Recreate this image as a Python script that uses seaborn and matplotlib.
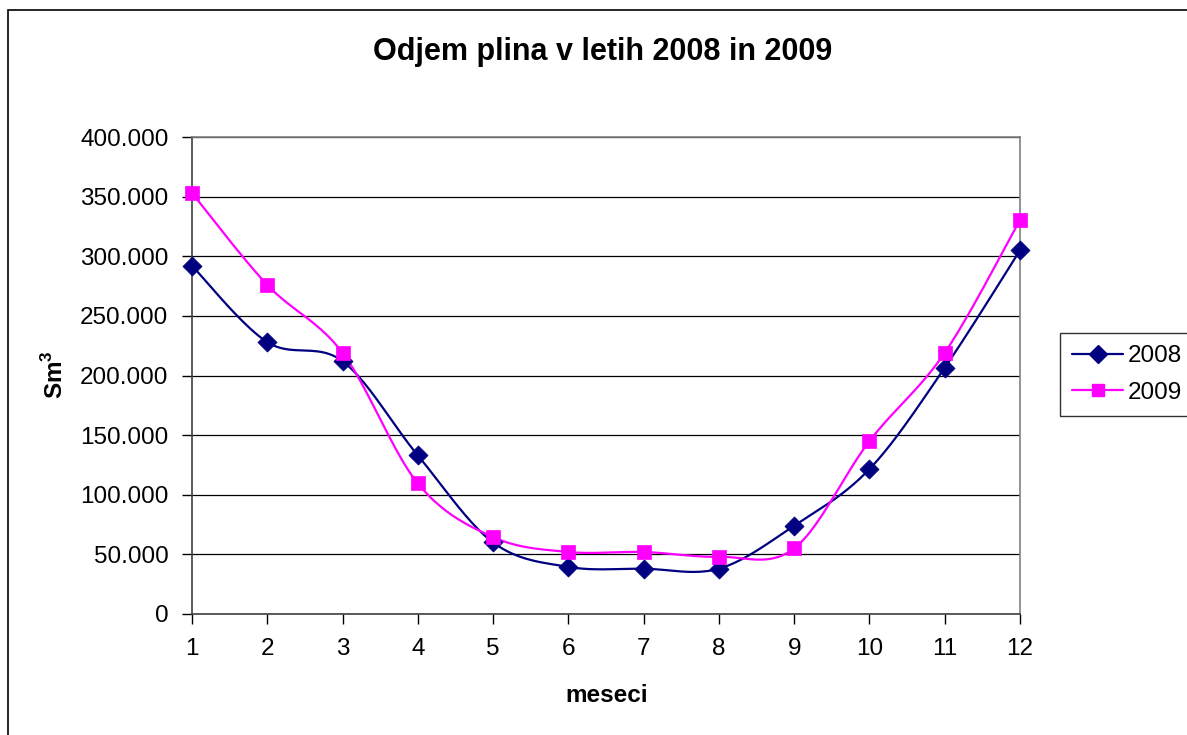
import numpy as np
import pandas as pd
import matplotlib
matplotlib.use("Agg")
import matplotlib.pyplot as plt
import seaborn as sns
from matplotlib.lines import Line2D
from matplotlib.patches import Rectangle
from matplotlib.ticker import FuncFormatter, MultipleLocator

months = [1, 2, 3, 4, 5, 6, 7, 8, 9, 10, 11, 12]
values_2008 = [292000, 228000, 212000, 133000, 60000, 39500, 38000, 38000, 74000, 121500, 206500, 305000]
values_2009 = [353000, 276000, 219000, 109500, 64500, 52000, 52000, 48000, 55000, 145000, 219000, 330500]
series_names = ["2008", "2009"]
series_colors = {"2008": "#000080", "2009": "#FF00FF"}
series_markers = {"2008": "D", "2009": "s"}

sns.set_theme(style="white")
plt.rcParams["font.family"] = ["Liberation Sans", "DejaVu Sans"]
plt.rcParams["mathtext.fontset"] = "custom"
plt.rcParams["mathtext.rm"] = "Liberation Sans"
plt.rcParams["mathtext.bf"] = "Liberation Sans:bold"
for key in ["text.color", "axes.labelcolor", "xtick.color", "ytick.color", "legend.labelcolor"]:
    plt.rcParams[key] = "#000000"

# Excel-like smoothing (Bezier with Catmull-Rom control points) in pixel-like space
XS, YS = 75.27, 1.1925 / 1000.0

def smooth(xs, ys, n=24):
    pts = np.column_stack([np.array(xs, float) * XS, np.array(ys, float) * YS])
    P = np.vstack([pts[0], pts, pts[-1]])
    out = []
    t = np.linspace(0, 1, n, endpoint=False)[:, None]
    for i in range(1, len(P) - 2):
        p0, p1, p2, p3 = P[i - 1], P[i], P[i + 1], P[i + 2]
        c1 = p1 + (p2 - p0) / 6.0
        c2 = p2 - (p3 - p1) / 6.0
        b = (1 - t) ** 3 * p1 + 3 * (1 - t) ** 2 * t * c1 + 3 * (1 - t) * t ** 2 * c2 + t ** 3 * p2
        out.append(b)
    out.append(pts[-1:])
    arr = np.vstack(out)
    return arr[:, 0] / XS, arr[:, 1] / YS

raw = {"2008": values_2008, "2009": values_2009}
curves = []
points = []
for name in series_names:
    sx, sy = smooth(months, raw[name])
    curves.append(pd.DataFrame({"x": sx, "y": sy, "series": name}))
    points.append(pd.DataFrame({"x": months, "y": raw[name], "series": name}))
curve_df = pd.concat(curves, ignore_index=True)
point_df = pd.concat(points, ignore_index=True)

fig = plt.figure(figsize=(11.87, 7.35), dpi=100)
ax = fig.add_axes([192 / 1187, 1 - 614 / 735, (1020 - 192) / 1187, (614 - 137) / 735])

ax.yaxis.grid(True, color="#000000", linewidth=0.9)
ax.set_axisbelow(True)

for name in series_names:
    d = curve_df[curve_df["series"] == name]
    sns.lineplot(data=d, x="x", y="y", sort=False, estimator=None, color=series_colors[name],
                 linewidth=1.6, ax=ax, legend=False, zorder=3)
    p = point_df[point_df["series"] == name]
    sns.scatterplot(data=p, x="x", y="y", marker=series_markers[name], color=series_colors[name],
                    s=95 if name == "2008" else 105, edgecolor=series_colors[name], linewidth=0.5,
                    ax=ax, legend=False, zorder=4, clip_on=False)

ax.set_xlim(1, 12)
ax.set_ylim(0, 400000)
ax.set_xticks(months)
ax.set_xticklabels([str(m) for m in months])
ax.yaxis.set_major_locator(MultipleLocator(50000))
ax.yaxis.set_major_formatter(FuncFormatter(lambda v, p: f"{int(round(v)):,}".replace(",", ".")))
ax.tick_params(axis="both", which="major", labelsize=17.5, colors="#000000", length=7, width=1,
               direction="out", left=True, bottom=True)
ax.tick_params(axis="y", pad=10)
ax.tick_params(axis="x", pad=10)
ax.set_xlabel("")
ax.set_ylabel("")
for side in ["top", "right"]:
    ax.spines[side].set_color("#808080")
    ax.spines[side].set_linewidth(1.2)
for side in ["left", "bottom"]:
    ax.spines[side].set_color("#404040")
    ax.spines[side].set_linewidth(1.2)

fig.text(603 / 1187, 1 - 52 / 735, "Odjem plina v letih 2008 in 2009", ha="center", va="center",
         fontsize=22, fontweight="bold", color="#000000")
fig.text(607 / 1187, 1 - 695 / 735, "meseci", ha="center", va="center", fontsize=17.5,
         fontweight="bold", color="#000000")
fig.text(55 / 1187, 1 - 375 / 735, r"$\mathbf{Sm}^{\mathbf{3}}$", ha="center", va="center",
         fontsize=17.5, rotation=90, color="#000000")

handles = [Line2D([0], [0], color=series_colors[n], marker=series_markers[n], markersize=9,
                  linewidth=1.6) for n in series_names]
leg = fig.legend(handles, series_names, loc="upper left", bbox_to_anchor=(1060 / 1187, 1 - 333 / 735),
                 bbox_transform=fig.transFigure, fontsize=17.5, frameon=True, fancybox=False,
                 handlelength=2.1, handletextpad=0.2, labelspacing=0.6, borderpad=0.5,
                 borderaxespad=0)
leg.get_frame().set_edgecolor("#000000")
leg.get_frame().set_linewidth(1.0)

fig.patches.append(Rectangle((8 / 1187, -0.1), 1.2, 1 - 10 / 735 + 0.1, transform=fig.transFigure,
                             fill=False, edgecolor="#000000", linewidth=1.2, zorder=0))

fig.savefig("out.png", dpi=100)
